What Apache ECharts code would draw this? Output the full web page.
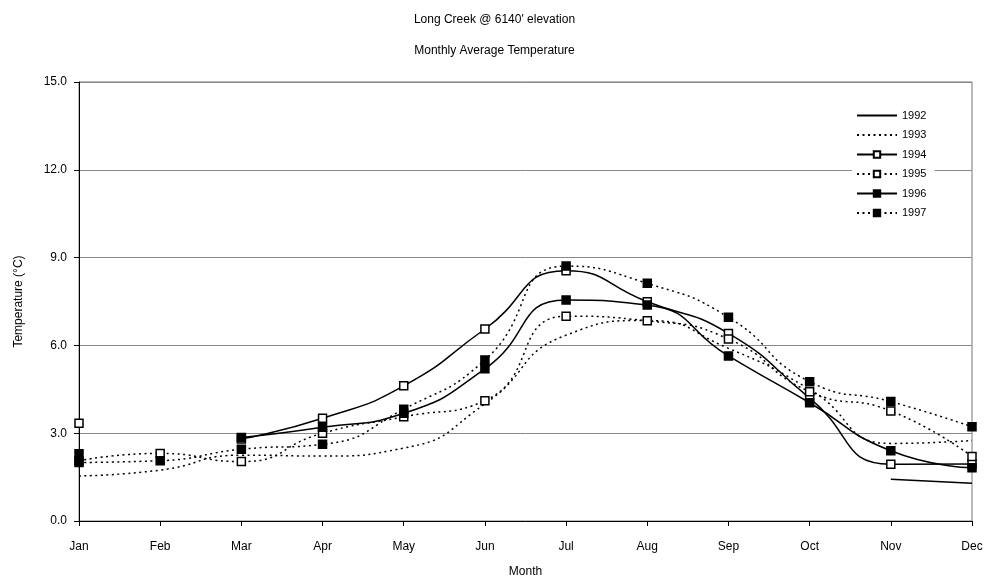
<!DOCTYPE html>
<html>
<head>
<meta charset="utf-8">
<script src="https://cdn.jsdelivr.net/npm/echarts@6/dist/echarts.min.js"></script>
<style>
html,body{margin:0;padding:0;background:#fff;}
#chart{width:989px;height:583px;}
</style>
</head>
<body>
<div id="chart"></div>
<script>
var months = ['Jan','Feb','Mar','Apr','May','Jun','Jul','Aug','Sep','Oct','Nov','Dec'];
var yTicks = [0, 3, 6, 9, 12, 15];
var years = ['1992', '1993', '1994', '1995', '1996', '1997'];
var y1992 = [null, null, null, null, null, null, null, null, null, null, 1.43, 1.29];
var y1993 = [1.54, 1.74, 2.25, 2.22, 2.49, 4.0, 6.35, 6.85, 5.9, 4.5, 2.65, 2.75];
var y1994 = [3.34, null, 2.8, 3.51, 4.62, 6.56, 8.55, 7.49, 6.41, 4.2, 1.94, 1.95];
var y1995 = [2.06, 2.31, 2.03, 3.0, 3.56, 4.11, 7.0, 6.84, 6.22, 4.42, 3.76, 2.2];
var y1996 = [2.3, null, 2.85, 3.2, 3.68, 5.2, 7.55, 7.38, 5.64, 4.04, 2.4, 1.82];
var y1997 = [2.0, 2.06, 2.45, 2.62, 3.82, 5.5, 8.71, 8.12, 6.96, 4.76, 4.08, 3.22];

var FONT = '"Liberation Sans", Arial, sans-serif';
var DOT = [2, 3.5];

function mk(name, data, dotted, symbol, filled) {
  return {
    name: name,
    type: 'line',
    data: data,
    smooth: 0.55,
    connectNulls: false,
    symbol: symbol,
    symbolSize: 8,
    showSymbol: symbol !== 'none',
    lineStyle: {color: '#000', width: 1.5, type: dotted ? DOT : 'solid'},
    itemStyle: {color: filled ? '#000' : '#fff', borderColor: '#000', borderWidth: 1.5, opacity: 1},
    emphasis: {disabled: true},
    z: 3
  };
}

var chart = echarts.init(document.getElementById('chart'), null, {renderer: 'canvas'});
chart.setOption({
  animation: false,
  backgroundColor: '#fff',
  textStyle: {fontFamily: FONT},
  title: [
    {text: "Long Creek @ 6140' elevation", left: 'center', top: 14, padding: 0,
     textStyle: {fontFamily: FONT, fontSize: 12, fontWeight: 'normal', color: '#000'}},
    {text: 'Monthly Average Temperature', left: 'center', top: 45, padding: 0,
     textStyle: {fontFamily: FONT, fontSize: 12, fontWeight: 'normal', color: '#000'}}
  ],
  grid: {left: 79, right: 17, top: 82, bottom: 62, show: true, borderColor: '#777', borderWidth: 1, backgroundColor: 'transparent'},
  legend: {
    orient: 'vertical',
    left: 852,
    top: 106,
    itemWidth: 40,
    itemHeight: 8,
    itemGap: 6.5,
    padding: [3, 8, 3, 4],
    backgroundColor: '#fff',
    textStyle: {fontFamily: FONT, fontSize: 11, color: '#000', lineHeight: 13},
    data: [
      {name: years[0], itemStyle: {opacity: 0}},
      {name: years[1], itemStyle: {opacity: 0}},
      years[2], years[3], years[4], years[5]
    ]
  },
  xAxis: {
    type: 'category',
    data: months,
    boundaryGap: false,
    name: 'Month',
    nameLocation: 'middle',
    nameGap: 45,
    nameTextStyle: {fontFamily: FONT, fontSize: 12, color: '#000'},
    axisLine: {show: true, lineStyle: {color: '#000', width: 1}},
    axisTick: {show: true, length: 5, lineStyle: {color: '#000'}},
    axisLabel: {fontFamily: FONT, fontSize: 12, color: '#000', margin: 20},
    splitLine: {show: false}
  },
  yAxis: {
    type: 'value',
    min: yTicks[0],
    max: yTicks[yTicks.length - 1],
    interval: 3,
    name: 'Temperature (\u00B0C)',
    nameLocation: 'middle',
    nameGap: 54,
    nameTextStyle: {fontFamily: FONT, fontSize: 12, color: '#000'},
    axisLine: {show: true, lineStyle: {color: '#000', width: 1}},
    axisTick: {show: true, length: 5, lineStyle: {color: '#000'}},
    axisLabel: {fontFamily: FONT, fontSize: 12, color: '#000', margin: 12,
                formatter: function (v) { return v.toFixed(1); }},
    splitLine: {show: true, lineStyle: {color: '#888', width: 1}}
  },
  series: [
    mk(years[0], y1992, false, 'none', true),
    mk(years[1], y1993, true, 'none', true),
    mk(years[2], y1994, false, 'rect', false),
    mk(years[3], y1995, true, 'rect', false),
    mk(years[4], y1996, false, 'rect', true),
    mk(years[5], y1997, true, 'rect', true)
  ]
});
</script>
</body>
</html>
